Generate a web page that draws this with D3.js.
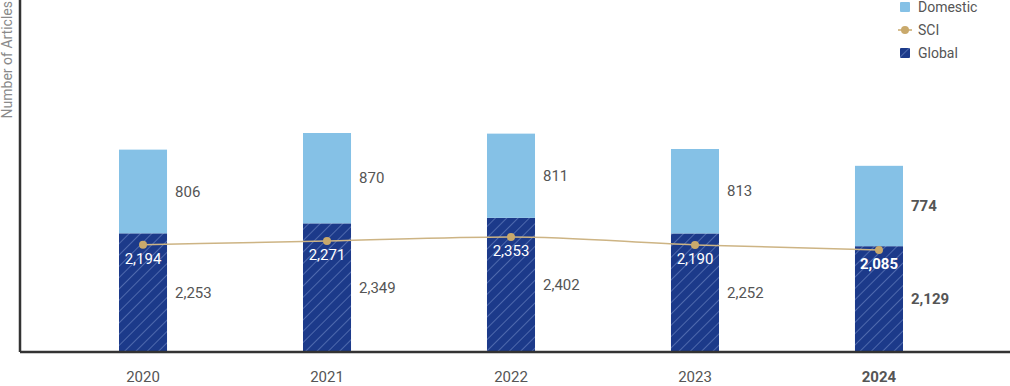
<!DOCTYPE html>
<html>
<head>
    <meta charset="utf-8" />
    <title>Number of Articles</title>
    <script src="https://d3js.org/d3.v7.min.js"></script>
    <style>
        body { margin: 0; background: #fff; }
        text { font-family: Roboto, "Noto Sans", sans-serif; }
    </style>
</head>
<body>
    <svg id="chart" width="1010" height="386"></svg>

<script>
    // Data
    const years = ["2020", "2021", "2022", "2023", "2024"];
    const globalValues = [2253, 2349, 2402, 2252, 2129];
    const domesticValues = [806, 870, 811, 813, 774];
    const sciValues = [2194, 2271, 2353, 2190, 2085];
    const legendLabels = ["Domestic", "SCI", "Global"];

    const width = 1010;
    const height = 386;
    const margin = { top: 0, right: 0, bottom: 34, left: 20 };
    const baseY = height - margin.bottom;

    const svg = d3.select("#chart");

    // Hatch pattern for the global bars
    const defs = svg.append("defs");
    const pattern = defs.append("pattern")
        .attr("id", "hatch")
        .attr("patternUnits", "userSpaceOnUse")
        .attr("width", 8)
        .attr("height", 8)
        .attr("patternTransform", "rotate(45)");
    pattern.append("rect")
        .attr("width", 8)
        .attr("height", 8)
        .attr("fill", "#1c3a8a");
    pattern.append("line")
        .attr("x1", 0).attr("y1", 0)
        .attr("x2", 0).attr("y2", 8)
        .attr("stroke", "#7f97d0")
        .attr("stroke-width", 1);

    // Scales
    const xScale = d3.scaleBand()
        .domain(years)
        .range([51, 971])
        .paddingInner(0.739)
        .paddingOuter(0.3696);

    const yScale = d3.scaleLinear()
        .domain([1110, 4500])
        .range([baseY, margin.top]);

    const ySci = d3.scaleLinear()
        .domain([0, 7200])
        .range([baseY, margin.top]);

    const fmt = d3.format(",");
    const last = years[years.length - 1];

    // Global bars
    svg.selectAll(".global")
        .data(years)
        .enter().append("rect")
        .attr("class", "global")
        .attr("x", d => xScale(d))
        .attr("width", xScale.bandwidth())
        .attr("y", (d, i) => yScale(globalValues[i]))
        .attr("height", (d, i) => baseY - yScale(globalValues[i]))
        .attr("fill", "url(#hatch)");

    // Domestic bars stacked on top
    svg.selectAll(".domestic")
        .data(years)
        .enter().append("rect")
        .attr("class", "domestic")
        .attr("x", d => xScale(d))
        .attr("width", xScale.bandwidth())
        .attr("y", (d, i) => yScale(globalValues[i] + domesticValues[i]))
        .attr("height", (d, i) => yScale(globalValues[i]) - yScale(globalValues[i] + domesticValues[i]))
        .attr("fill", "#85c1e6");

    // Value labels next to the bars
    svg.selectAll(".domLabel")
        .data(years)
        .enter().append("text")
        .attr("x", d => xScale(d) + xScale.bandwidth() + 8)
        .attr("y", (d, i) => (yScale(globalValues[i]) + yScale(globalValues[i] + domesticValues[i])) / 2)
        .attr("dy", "0.35em")
        .attr("fill", "#555")
        .style("font-size", "15px")
        .style("font-weight", d => d === last ? 700 : 400)
        .text((d, i) => fmt(domesticValues[i]));

    svg.selectAll(".globLabel")
        .data(years)
        .enter().append("text")
        .attr("x", d => xScale(d) + xScale.bandwidth() + 8)
        .attr("y", (d, i) => (yScale(globalValues[i]) + baseY) / 2)
        .attr("dy", "0.35em")
        .attr("fill", "#555")
        .style("font-size", "15px")
        .style("font-weight", d => d === last ? 700 : 400)
        .text((d, i) => fmt(globalValues[i]));

    // SCI line
    const sciLine = d3.line()
        .x((d, i) => xScale(years[i]) + xScale.bandwidth() / 2)
        .y(d => ySci(d))
        .curve(d3.curveMonotoneX);

    svg.append("path")
        .datum(sciValues)
        .attr("fill", "none")
        .attr("stroke", "#cdb484")
        .attr("stroke-width", 1.5)
        .attr("d", sciLine);

    svg.selectAll(".sciDot")
        .data(sciValues)
        .enter().append("circle")
        .attr("cx", (d, i) => xScale(years[i]) + xScale.bandwidth() / 2)
        .attr("cy", d => ySci(d))
        .attr("r", 4)
        .attr("fill", "#c9a96b");

    svg.selectAll(".sciLabel")
        .data(sciValues)
        .enter().append("text")
        .attr("x", (d, i) => xScale(years[i]) + xScale.bandwidth() / 2)
        .attr("y", d => ySci(d) + 14)
        .attr("dy", "0.35em")
        .attr("text-anchor", "middle")
        .attr("fill", "#fff")
        .style("font-size", "15px")
        .style("font-weight", (d, i) => years[i] === last ? 700 : 400)
        .text(d => fmt(d));

    // Axes lines
    svg.append("line")
        .attr("x1", margin.left).attr("x2", width)
        .attr("y1", baseY).attr("y2", baseY)
        .attr("stroke", "#333")
        .attr("stroke-width", 2.5);

    svg.append("line")
        .attr("x1", margin.left).attr("x2", margin.left)
        .attr("y1", 0).attr("y2", baseY)
        .attr("stroke", "#333")
        .attr("stroke-width", 2.5);

    // Year labels
    svg.selectAll(".yearLabel")
        .data(years)
        .enter().append("text")
        .attr("x", d => xScale(d) + xScale.bandwidth() / 2)
        .attr("y", 377)
        .attr("dy", "0.35em")
        .attr("text-anchor", "middle")
        .attr("fill", "#555")
        .style("font-size", "15px")
        .style("font-weight", d => d === last ? 700 : 400)
        .text(d => d);

    // Y axis title
    svg.append("text")
        .attr("transform", "translate(12, 1) rotate(-90)")
        .attr("text-anchor", "end")
        .attr("fill", "#8a8a8a")
        .style("font-size", "14px")
        .text("Number of Articles");

    // Legend
    const legend = svg.append("g").attr("transform", "translate(900, 0)");

    legend.append("rect")
        .attr("x", 0).attr("y", 2)
        .attr("width", 10).attr("height", 10)
        .attr("rx", 1)
        .attr("fill", "#85c1e6");

    legend.append("line")
        .attr("x1", -2).attr("x2", 12)
        .attr("y1", 30).attr("y2", 30)
        .attr("stroke", "#c9a96b")
        .attr("stroke-width", 1.5);
    legend.append("circle")
        .attr("cx", 5).attr("cy", 30)
        .attr("r", 4)
        .attr("fill", "#c9a96b");

    legend.append("rect")
        .attr("x", 0).attr("y", 48)
        .attr("width", 10).attr("height", 10)
        .attr("rx", 1)
        .attr("fill", "url(#hatch)");

    legend.selectAll(".legText")
        .data(legendLabels)
        .enter().append("text")
        .attr("x", 18)
        .attr("y", (d, i) => 7 + i * 23)
        .attr("dy", "0.35em")
        .attr("fill", "#555")
        .style("font-size", "14px")
        .text(d => d);
</script>
</body>
</html>
